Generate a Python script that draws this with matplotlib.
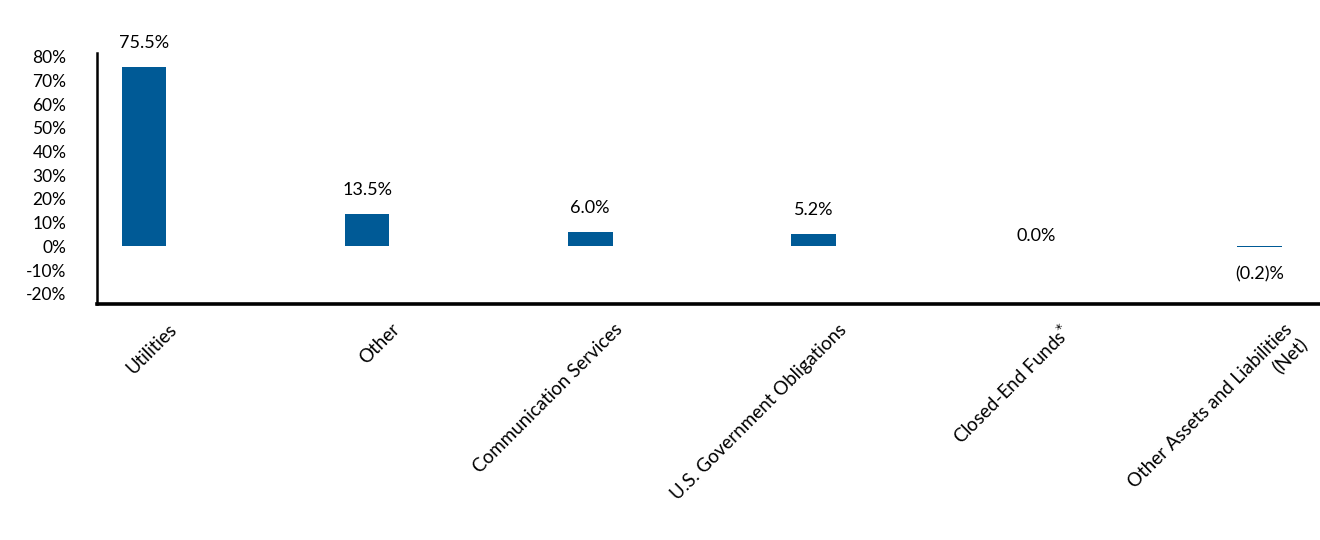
import matplotlib
matplotlib.use("Agg")
import matplotlib.pyplot as plt
import matplotlib.transforms as mtransforms
from matplotlib.ticker import FuncFormatter

categories = ["Utilities", "Other", "Communication Services",
              "U.S. Government Obligations", "Closed-End Funds$^{*}$",
              "Other Assets and Liabilities\n(Net)"]
values = [75.5, 13.5, 6.0, 5.2, 0.0, -0.2]
value_labels = ["75.5%", "13.5%", "6.0%", "5.2%", "0.0%", "(0.2)%"]
yticks = [-20, -10, 0, 10, 20, 30, 40, 50, 60, 70, 80]

plt.rcParams['font.family'] = ['Lato', 'DejaVu Sans']
fig = plt.figure(figsize=(13.2, 5.4), dpi=100)
ax = fig.add_axes([97/1320, 1 - 304/540, 1 - 97/1320, (304 - 53)/540])

x = list(range(len(categories)))
ax.bar(x, values, width=0.2, color="#005A96")
ax.set_xlim(-0.21, 5.27)
ax.set_ylim(-24.3, 81.5)
ax.set_yticks(yticks)
ax.yaxis.set_major_formatter(FuncFormatter(lambda v, p: f"{v:.0f}%"))
ax.tick_params(axis='y', length=0, labelsize=12.5, pad=22, colors='black')
ax.tick_params(axis='x', length=0, labelsize=13.5, pad=12)

for s in ['top', 'right']:
    ax.spines[s].set_visible(False)
ax.spines['left'].set_linewidth(1.8)
ax.spines['bottom'].set_linewidth(2.6)

ax.set_xticks(x)
ax.set_xticklabels(categories, rotation=45, ha='right', va='top',
                   rotation_mode='anchor', multialignment='right')
off = mtransforms.ScaledTranslation(24/100, 0, fig.dpi_scale_trans)
for lab in ax.get_xticklabels():
    lab.set_transform(lab.get_transform() + off)

for xi, v, t in zip(x, values, value_labels):
    if v > 0:
        dy = 24
    elif v == 0:
        dy = 10
    else:
        dy = -28
    ax.annotate(t, (xi, v), xytext=(0, dy * 72 / 100), textcoords='offset points',
                ha='center', va='center', fontsize=13)

fig.savefig("out.png", dpi=100)
